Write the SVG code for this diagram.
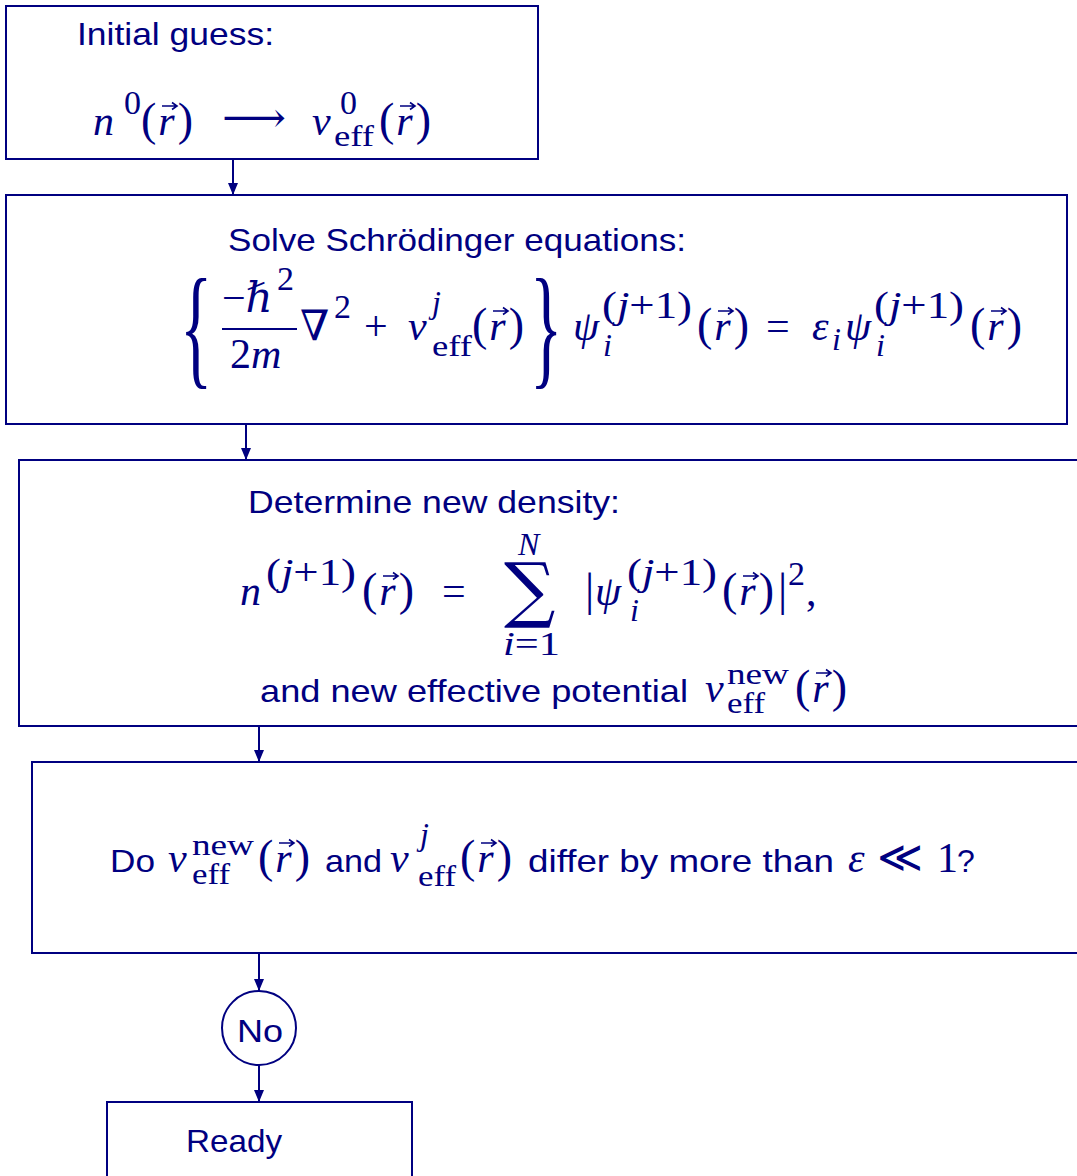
<svg xmlns="http://www.w3.org/2000/svg" width="1077" height="1176" viewBox="0 0 1077 1176">
<style>
.box{fill:none;stroke:#000080;stroke-width:2}
.t{font-family:"Liberation Sans","DejaVu Sans",sans-serif;font-size:32px;fill:#000080}
.m{font-family:"Liberation Serif","DejaVu Serif",serif;font-style:italic;font-size:42px;fill:#000080}
.r{font-family:"Liberation Serif","DejaVu Serif",serif;font-size:42px;fill:#000080}
.p{font-family:"Liberation Serif","DejaVu Serif",serif;font-size:46px;fill:#000080}
.s{font-family:"Liberation Serif","DejaVu Serif",serif;font-style:italic;font-size:32px;fill:#000080}
.sr{font-family:"Liberation Serif","DejaVu Serif",serif;font-size:34px;fill:#000080}
.sp{font-family:"Liberation Serif","DejaVu Serif",serif;font-size:38px;fill:#000080}
.e{font-family:"Liberation Serif","DejaVu Serif",serif;font-size:30px;fill:#000080}
.d{font-family:"DejaVu Serif",serif;fill:#000080}
.i{font-style:italic;font-size:42px}
.j{font-style:italic}
.c{stroke:#000080;stroke-width:2;fill:none}
</style>
<defs>
<marker id="ah" viewBox="0 0 12 10" refX="12" refY="5" markerWidth="12" markerHeight="10" markerUnits="userSpaceOnUse" orient="auto">
<path d="M0,0 L12,5 L0,10 z" fill="#000080"/>
</marker>
<path id="vec" d="M0,0 H15 M10,-3.5 L15,0 L10,3.5" fill="none" stroke="#000080" stroke-width="1.6"/>
</defs>

<g id="connectors">
<line class="c" x1="233" y1="159" x2="233" y2="195" marker-end="url(#ah)"/>
<line class="c" x1="246" y1="424" x2="246" y2="460" marker-end="url(#ah)"/>
<line class="c" x1="259" y1="726" x2="259" y2="762" marker-end="url(#ah)"/>
<line class="c" x1="259" y1="953" x2="259" y2="991" marker-end="url(#ah)"/>
<line class="c" x1="259" y1="1065" x2="259" y2="1102" marker-end="url(#ah)"/>
</g>

<g id="initial">
<rect class="box" x="6" y="6" width="532" height="153"/>
<text class="t" x="77" y="45" textLength="197" lengthAdjust="spacingAndGlyphs">Initial guess:</text>
<text class="m" x="93" y="135">n</text>
<text class="sr" x="124" y="114">0</text>
<text class="p" x="141" y="135">(<tspan class="i" dx="2">r</tspan><tspan dx="3">)</tspan></text>
<use href="#vec" x="162" y="106"/>
<text class="d" x="222" y="132" font-size="42" textLength="64" lengthAdjust="spacingAndGlyphs">&#x27F6;</text>
<text class="m" x="312" y="135">v</text>
<text class="sr" x="340" y="114">0</text>
<text class="e" x="334" y="146" textLength="40" lengthAdjust="spacingAndGlyphs">eff</text>
<text class="p" x="379" y="135">(<tspan class="i" dx="2">r</tspan><tspan dx="3">)</tspan></text>
<use href="#vec" x="400" y="106"/>
</g>

<g id="schroedinger">
<rect class="box" x="6" y="195" width="1061" height="229"/>
<text class="t" x="228" y="251" textLength="458" lengthAdjust="spacingAndGlyphs">Solve Schrödinger equations:</text>
<text class="r" font-size="50" transform="translate(180,371) scale(1.6,3.2)">{</text>
<text class="r" x="222" y="312">−<tspan class="j">ℏ</tspan></text>
<text class="sr" x="277" y="290">2</text>
<line class="c" x1="222" y1="329" x2="297" y2="329"/>
<text class="r" x="230" y="368">2<tspan class="j">m</tspan></text>
<text class="r" x="300" y="340">∇</text>
<text class="sr" x="334" y="318">2</text>
<text class="r" x="364" y="340" font-size="48">+</text>
<text class="m" x="408" y="340">v</text>
<text class="s" x="432" y="313">j</text>
<text class="e" x="432" y="356" textLength="40" lengthAdjust="spacingAndGlyphs">eff</text>
<text class="p" x="472" y="340">(<tspan class="i" dx="2">r</tspan><tspan dx="3">)</tspan></text>
<use href="#vec" x="493" y="311"/>
<text class="r" font-size="50" transform="translate(530,371) scale(1.6,3.2)">}</text>
<text class="m" x="573" y="340">ψ</text>
<text class="sp" x="602" y="318" textLength="90" lengthAdjust="spacingAndGlyphs">(<tspan class="j">j</tspan>+1)</text>
<text class="s" x="603" y="356">i</text>
<text class="p" x="697" y="340">(<tspan class="i" dx="2">r</tspan><tspan dx="3">)</tspan></text>
<use href="#vec" x="718" y="311"/>
<text class="r" x="766" y="340" font-size="48">=</text>
<text class="m" x="812" y="340">ε</text>
<text class="s" x="832" y="350">i</text>
<text class="m" x="845" y="340">ψ</text>
<text class="sp" x="874" y="318" textLength="90" lengthAdjust="spacingAndGlyphs">(<tspan class="j">j</tspan>+1)</text>
<text class="s" x="876" y="356">i</text>
<text class="p" x="970" y="340">(<tspan class="i" dx="2">r</tspan><tspan dx="3">)</tspan></text>
<use href="#vec" x="991" y="311"/>
</g>

<g id="density">
<rect class="box" x="19" y="460" width="1080" height="266"/>
<text class="t" x="248" y="513" textLength="372" lengthAdjust="spacingAndGlyphs">Determine new density:</text>
<text class="m" x="240" y="605">n</text>
<text class="sp" x="266" y="585" textLength="90" lengthAdjust="spacingAndGlyphs">(<tspan class="j">j</tspan>+1)</text>
<text class="p" x="362" y="605">(<tspan class="i" dx="2">r</tspan><tspan dx="3">)</tspan></text>
<use href="#vec" x="383" y="576"/>
<text class="r" x="442" y="605" font-size="48">=</text>
<text class="d" x="504" y="614" font-size="72">∑</text>
<text class="s" x="518" y="555">N</text>
<text class="sr" x="503" y="655" textLength="57" lengthAdjust="spacingAndGlyphs"><tspan class="j">i</tspan>=1</text>
<text class="p" x="585" y="605">|</text>
<text class="m" x="595" y="605">ψ</text>
<text class="sp" x="627" y="585" textLength="90" lengthAdjust="spacingAndGlyphs">(<tspan class="j">j</tspan>+1)</text>
<text class="s" x="630" y="621">i</text>
<text class="p" x="722" y="605">(<tspan class="i" dx="2">r</tspan><tspan dx="3">)</tspan></text>
<use href="#vec" x="743" y="576"/>
<text class="p" x="778" y="605">|</text>
<text class="sr" x="788" y="585">2</text>
<text class="r" x="806" y="605">,</text>
<text class="t" x="260" y="702" textLength="428" lengthAdjust="spacingAndGlyphs">and new effective potential</text>
<text class="m" x="705" y="702">v</text>
<text class="e" x="727" y="684" textLength="62" lengthAdjust="spacingAndGlyphs">new</text>
<text class="e" x="727" y="713" textLength="38" lengthAdjust="spacingAndGlyphs">eff</text>
<text class="p" x="795" y="702">(<tspan class="i" dx="2">r</tspan><tspan dx="3">)</tspan></text>
<use href="#vec" x="816" y="673"/>
</g>

<g id="check">
<rect class="box" x="32" y="762" width="1070" height="191"/>
<text class="t" x="110" y="872" textLength="45" lengthAdjust="spacingAndGlyphs">Do</text>
<text class="m" x="168" y="872">v</text>
<text class="e" x="192" y="855" textLength="62" lengthAdjust="spacingAndGlyphs">new</text>
<text class="e" x="192" y="884" textLength="38" lengthAdjust="spacingAndGlyphs">eff</text>
<text class="p" x="258" y="872">(<tspan class="i" dx="2">r</tspan><tspan dx="3">)</tspan></text>
<use href="#vec" x="279" y="843"/>
<text class="t" x="325" y="872" textLength="57" lengthAdjust="spacingAndGlyphs">and</text>
<text class="m" x="390" y="872">v</text>
<text class="s" x="420" y="845">j</text>
<text class="e" x="418" y="886" textLength="38" lengthAdjust="spacingAndGlyphs">eff</text>
<text class="p" x="460" y="872">(<tspan class="i" dx="2">r</tspan><tspan dx="3">)</tspan></text>
<use href="#vec" x="481" y="843"/>
<text class="t" x="528" y="872" textLength="306" lengthAdjust="spacingAndGlyphs">differ by more than</text>
<text class="m" x="848" y="872">ε</text>
<text class="d" x="877" y="872" font-size="44">≪</text>
<text class="r" x="937" y="872">1</text>
<text class="t" x="957" y="872">?</text>
</g>

<g id="no">
<circle class="box" cx="259" cy="1028" r="37"/>
<text class="t" x="237" y="1042" textLength="46" lengthAdjust="spacingAndGlyphs">No</text>
</g>

<g id="ready">
<rect class="box" x="107" y="1102" width="305" height="90"/>
<text class="t" x="186" y="1152" textLength="96" lengthAdjust="spacingAndGlyphs">Ready</text>
</g>
</svg>
